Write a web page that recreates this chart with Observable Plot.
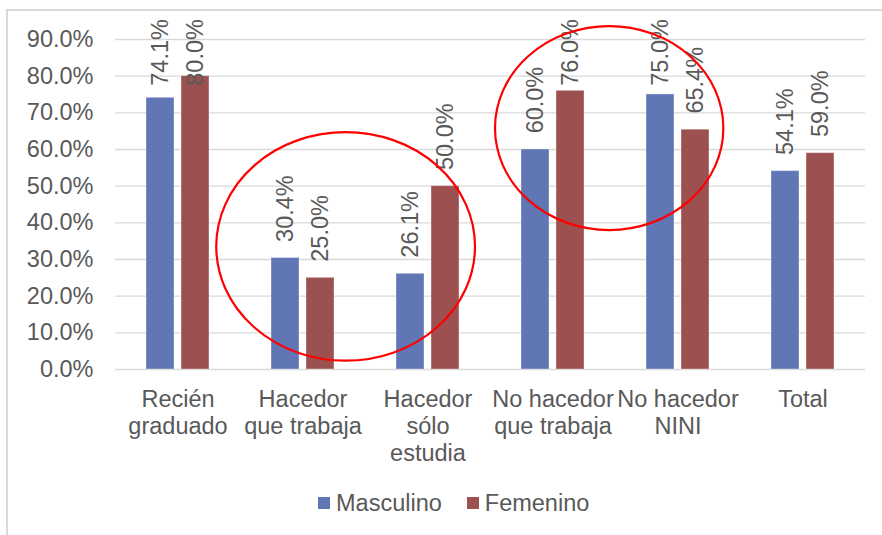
<!DOCTYPE html>
<html>
<head>
<meta charset="utf-8">
<script src="https://cdn.jsdelivr.net/npm/d3@7"></script>
<script src="https://cdn.jsdelivr.net/npm/@observablehq/plot@0.6"></script>
<style>
  html, body { margin: 0; padding: 0; background: #fff; overflow: hidden; }
  #wrap { position: relative; width: 882px; height: 535px; font-family: "Liberation Sans", Arial, sans-serif; }
  #frame { position: absolute; left: 6px; top: 9px; width: 900px; height: 600px; border: 2px solid #D9D9D9; pointer-events: none; }
  #legend { position: absolute; left: 318px; top: 489px; height: 28px; display: flex; align-items: center; font-size: 23.5px; color: #595959; }
  .item { display: flex; align-items: center; margin-right: 25px; }
  .sw { width: 12px; height: 12px; margin-right: 6px; }
</style>
</head>
<body>
<div id="wrap">
  <div id="chart"></div>
  <div id="frame"></div>
  <div id="legend"></div>
</div>
<script>
// ---- data ----
const categories = ["Recién graduado", "Hacedor que trabaja", "Hacedor sólo estudia", "No hacedor que trabaja", "No hacedor NINI", "Total"];
const categoryLabels = ["Recién\ngraduado", "Hacedor\nque trabaja", "Hacedor\nsólo\nestudia", "No hacedor\nque trabaja", "No hacedor\nNINI", "Total"];
const series = ["Masculino", "Femenino"];
const masculino = [0.741, 0.304, 0.261, 0.600, 0.750, 0.541];
const femenino  = [0.800, 0.250, 0.500, 0.760, 0.654, 0.590];
const yTicks = [0, 0.1, 0.2, 0.3, 0.4, 0.5, 0.6, 0.7, 0.8, 0.9];
const seriesColors = ["#6176B5", "#9C5050"];

// value labels sit just above their bar, but (as in the source chart) never above the chart area
const labelOffset = 0.044;
const labelCap = 0.774;

// annotation ellipses (in category / value terms)
const ellipseFrom = ["Hacedor que trabaja", "No hacedor que trabaja"];
const ellipseFromOffset = [-0.19, 0.04];
const ellipseTo = ["Hacedor sólo estudia", "No hacedor NINI"];
const ellipseToOffset = [0.88, 0.867];
const ellipseLow = [0.0226, 0.379];
const ellipseHigh = [0.646, 0.935];

const rows = [];
categories.forEach((c, i) => {
  rows.push({cat: c, sex: series[0], value: masculino[i]});
  rows.push({cat: c, sex: series[1], value: femenino[i]});
});

const pct = d3.format(".1%");
const FS = 23.5;
const TXT = "#595959";

const plot = Plot.plot({
  width: 882,
  height: 480,
  marginTop: 39,
  marginBottom: 111,
  marginLeft: 113,
  marginRight: 16,
  style: {fontFamily: "'Liberation Sans', Arial, sans-serif", color: TXT, background: "transparent"},
  fx: {domain: categories, padding: 0, label: null},
  x: {domain: series, paddingInner: 0.2, paddingOuter: 0.872, axis: null},
  y: {domain: [0, 0.9], label: null},
  color: {domain: series, range: seriesColors},
  marks: [
    Plot.gridY({ticks: yTicks, stroke: "#D9D9D9", strokeOpacity: 1, strokeWidth: 1.4}),
    Plot.axisY({ticks: yTicks, tickFormat: pct, tickSize: 0, tickPadding: 22, fontSize: FS, label: null, fill: TXT}),
    Plot.axisFx({anchor: "bottom", tickSize: 0, tickPadding: 18, fontSize: FS, lineHeight: 1.16, label: null, fill: TXT,
      tickFormat: d => categoryLabels[categories.indexOf(d)]}),
    Plot.barY(rows, {fx: "cat", x: "sex", y: "value", fill: "sex", stroke: "#ffffff", strokeOpacity: 0.35, strokeWidth: 1}),
    Plot.text(rows, {fx: "cat", x: "sex", y: d => Math.min(d.value + labelOffset, labelCap), text: d => pct(d.value),
      rotate: -90, textAnchor: "start", lineAnchor: "middle", fontSize: FS, fill: TXT})
  ]
});

document.getElementById("chart").appendChild(plot);

// draw annotation ellipses using the plot's own scales
const fxS = plot.scale("fx");
const yS = plot.scale("y");
const bw = fxS.bandwidth;
const svg = d3.select(plot);
ellipseFrom.forEach((from, i) => {
  const x1 = fxS.apply(from) + ellipseFromOffset[i] * bw;
  const x2 = fxS.apply(ellipseTo[i]) + ellipseToOffset[i] * bw;
  const y1 = yS.apply(ellipseHigh[i]);
  const y2 = yS.apply(ellipseLow[i]);
  svg.append("ellipse")
    .attr("cx", (x1 + x2) / 2).attr("cy", (y1 + y2) / 2)
    .attr("rx", (x2 - x1) / 2).attr("ry", (y2 - y1) / 2)
    .attr("fill", "none").attr("stroke", "#FF0000").attr("stroke-width", 2.2);
});

// legend
const legend = document.getElementById("legend");
series.forEach((s, i) => {
  const it = document.createElement("div");
  it.className = "item";
  const sw = document.createElement("div");
  sw.className = "sw";
  sw.style.background = seriesColors[i];
  const t = document.createElement("span");
  t.textContent = s;
  it.appendChild(sw); it.appendChild(t);
  legend.appendChild(it);
});
</script>
</body>
</html>
